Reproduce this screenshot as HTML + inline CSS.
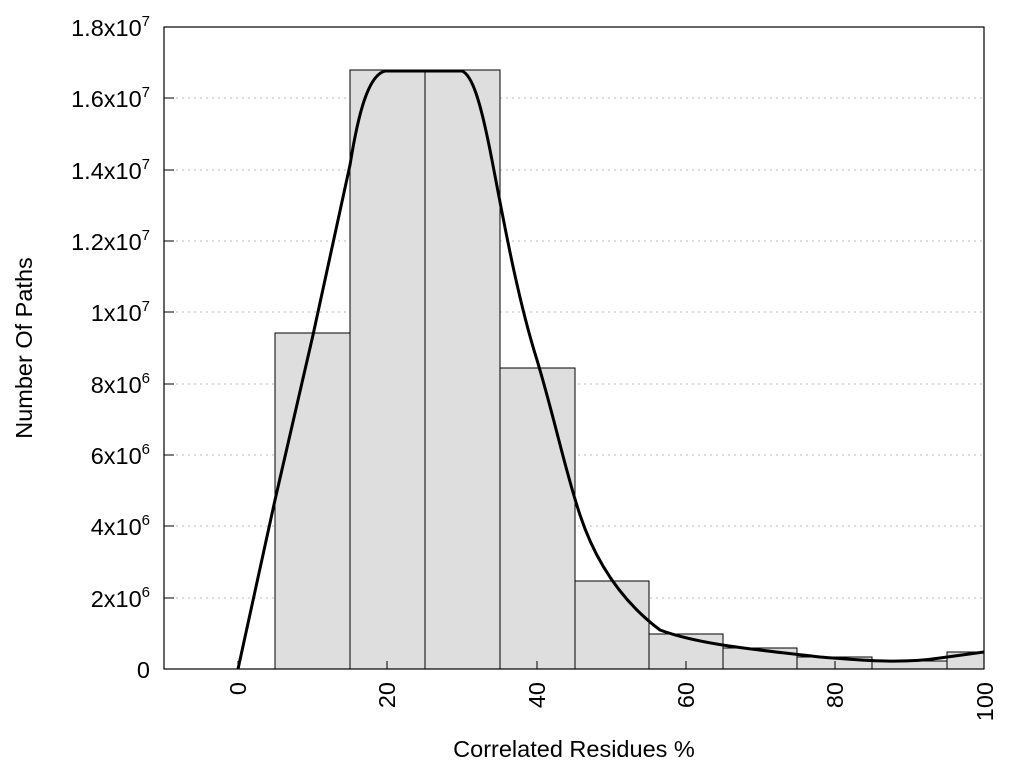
<!DOCTYPE html>
<html><head><style>body{margin:0;background:#fff}</style></head><body>
<svg width="1024" height="768" xmlns="http://www.w3.org/2000/svg" font-family="Liberation Sans, sans-serif" font-size="23.5">
<g stroke="#bbb" stroke-dasharray="2,4" stroke-width="1">
<line x1="164" x2="984" y1="598" y2="598"/><line x1="164" x2="984" y1="526" y2="526"/><line x1="164" x2="984" y1="455" y2="455"/><line x1="164" x2="984" y1="384" y2="384"/><line x1="164" x2="984" y1="312" y2="312"/><line x1="164" x2="984" y1="241" y2="241"/><line x1="164" x2="984" y1="170" y2="170"/><line x1="164" x2="984" y1="98" y2="98"/>
</g>
<g fill="#dedede" stroke="#000" stroke-width="1">
<rect x="275" y="333" width="75" height="336"/>
<rect x="350" y="70" width="75" height="599"/>
<rect x="425" y="70" width="75" height="599"/>
<rect x="500" y="368" width="75" height="301"/>
<rect x="575" y="581" width="74" height="88"/>
<rect x="649" y="634" width="74" height="35"/>
<rect x="723" y="648" width="74" height="21"/>
<rect x="797" y="657" width="75" height="12"/>
<rect x="872" y="661" width="75" height="8"/>
<rect x="947" y="652" width="37" height="17"/>
</g>
<path d="M238,669 L275,500 L313,335 L350,165 C358,115 368,75 385,71 L462,71 C472,75 480,100 490,150 C500,200 515,290 537,360 C555,420 565,470 580,515 C595,560 620,600 660,630 C700,645 760,650 820,657 C860,660 900,664 940,658 L984,652" fill="none" stroke="#000" stroke-width="3"/>
<rect x="164" y="27" width="820" height="642" fill="none" stroke="#000" stroke-width="1.2"/>
<g stroke="#000"><line x1="164" x2="174" y1="598" y2="598"/><line x1="164" x2="174" y1="526" y2="526"/><line x1="164" x2="174" y1="455" y2="455"/><line x1="164" x2="174" y1="384" y2="384"/><line x1="164" x2="174" y1="312" y2="312"/><line x1="164" x2="174" y1="241" y2="241"/><line x1="164" x2="174" y1="170" y2="170"/><line x1="164" x2="174" y1="98" y2="98"/>
<line x1="238" x2="238" y1="669" y2="661"/><line x1="387" x2="387" y1="669" y2="661"/><line x1="537" x2="537" y1="669" y2="661"/><line x1="686" x2="686" y1="669" y2="661"/><line x1="835" x2="835" y1="669" y2="661"/></g>
<g text-anchor="end">
<text x="150" y="678">0</text>
<text x="150" y="607">2x10<tspan font-size="15" dy="-10">6</tspan></text>
<text x="150" y="535">4x10<tspan font-size="15" dy="-10">6</tspan></text>
<text x="150" y="464">6x10<tspan font-size="15" dy="-10">6</tspan></text>
<text x="150" y="393">8x10<tspan font-size="15" dy="-10">6</tspan></text>
<text x="150" y="321">1x10<tspan font-size="15" dy="-10">7</tspan></text>
<text x="150" y="250">1.2x10<tspan font-size="15" dy="-10">7</tspan></text>
<text x="150" y="179">1.4x10<tspan font-size="15" dy="-10">7</tspan></text>
<text x="150" y="107">1.6x10<tspan font-size="15" dy="-10">7</tspan></text>
<text x="150" y="36">1.8x10<tspan font-size="15" dy="-10">7</tspan></text>
<text transform="translate(246,682) rotate(-90)">0</text>
<text transform="translate(395,682) rotate(-90)">20</text>
<text transform="translate(545,682) rotate(-90)">40</text>
<text transform="translate(694,682) rotate(-90)">60</text>
<text transform="translate(843,682) rotate(-90)">80</text>
<text transform="translate(993,682) rotate(-90)">100</text>
</g>
<text x="574" y="757" text-anchor="middle">Correlated Residues %</text>
<text transform="translate(32,348) rotate(-90)" text-anchor="middle">Number Of Paths</text>
</svg>
</body></html>
